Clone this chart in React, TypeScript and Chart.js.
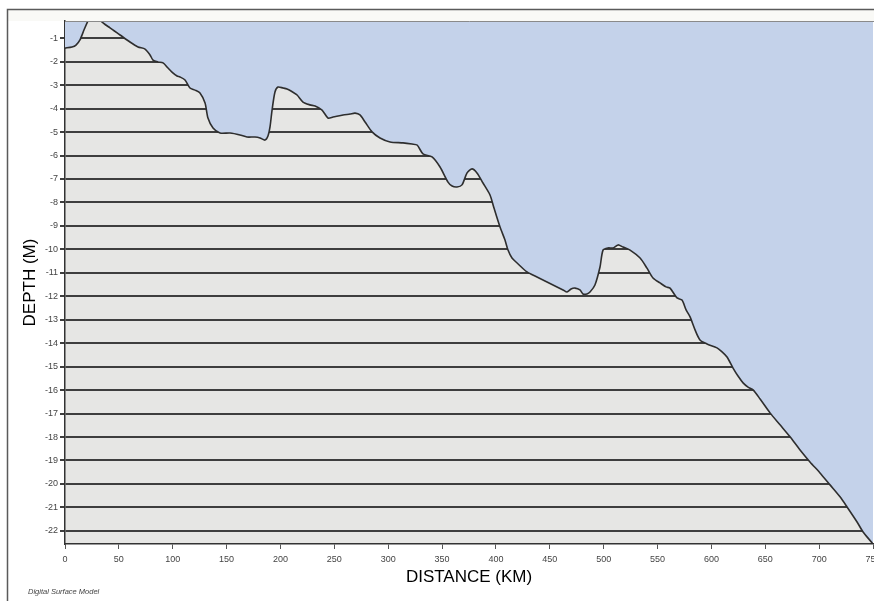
import React, { useEffect, useRef } from "react";
import { Chart, registerables } from "chart.js";

Chart.register(...registerables);

// Distance along profile (km)
const distanceKm = [0, 6.5, 10.2, 13.9, 17.6, 21.3, 25.1, 29.7, 33.4, 41.8, 51.1, 60.3, 67.8, 74.3, 78.9, 81.7, 86.3, 91.0, 95.6, 99.3, 104.0, 106.7, 111.4, 116.0, 120.7, 125.3, 130.0, 132.7, 137.4, 143.9, 153.2, 162.4, 168.9, 176.4, 181.0, 185.7, 188.4, 190.3, 192.2, 194.9, 197.7, 202.4, 206.1, 209.8, 215.4, 220.9, 227.4, 232.1, 238.6, 244.1, 248.8, 258.1, 264.6, 269.2, 273.8, 278.5, 285.0, 292.4, 301.7, 313.8, 322.1, 326.8, 332.3, 340.7, 348.1, 355.5, 359.3, 363.9, 368.5, 373.2, 377.8, 382.4, 388.0, 394.5, 398.2, 403.8, 408.4, 411.2, 414.9, 419.6, 428.8, 438.1, 447.4, 456.7, 462.3, 466.0, 469.7, 473.4, 478.0, 480.8, 484.5, 487.3, 491.9, 496.6, 499.4, 504.0, 508.7, 513.3, 518.0, 524.5, 533.8, 540.2, 545.8, 552.3, 557.9, 561.6, 568.1, 572.7, 576.5, 580.2, 584.8, 589.4, 595.9, 605.2, 609.9, 614.5, 620.1, 624.7, 629.4, 634.0, 638.7, 645.2, 654.4, 663.7, 673.0, 682.3, 691.5, 700.8, 710.1, 719.4, 725.9, 735.2, 740.8, 749.1, 752];

// Depth (m)
const depthM = [-1.42, -1.37, -1.29, -1.07, -0.65, -0.26, 0.1, 0.1, -0.26, -0.56, -0.86, -1.16, -1.37, -1.46, -1.71, -1.93, -2.01, -2.05, -2.27, -2.44, -2.61, -2.65, -2.78, -3.12, -3.21, -3.33, -3.76, -4.40, -4.83, -5.04, -5.04, -5.12, -5.21, -5.21, -5.25, -5.34, -5.17, -4.78, -4.06, -3.29, -3.08, -3.12, -3.16, -3.25, -3.42, -3.72, -3.84, -3.89, -4.06, -4.40, -4.36, -4.27, -4.23, -4.19, -4.27, -4.57, -4.99, -5.25, -5.42, -5.46, -5.51, -5.55, -5.93, -6.06, -6.49, -7.13, -7.30, -7.34, -7.25, -6.74, -6.57, -6.74, -7.17, -7.68, -8.24, -9.05, -9.60, -10.03, -10.37, -10.58, -10.96, -11.18, -11.39, -11.60, -11.73, -11.82, -11.69, -11.65, -11.73, -11.90, -11.90, -11.82, -11.52, -10.75, -10.03, -9.94, -9.94, -9.81, -9.90, -10.03, -10.37, -10.80, -11.22, -11.43, -11.60, -11.65, -12.07, -12.16, -12.58, -12.88, -13.43, -13.86, -14.03, -14.20, -14.37, -14.59, -15.06, -15.40, -15.69, -15.87, -15.99, -16.38, -16.97, -17.48, -17.99, -18.55, -19.06, -19.53, -20.04, -20.55, -20.98, -21.62, -22.05, -22.51, -22.7];

const xTickValues = [0, 50, 100, 150, 200, 250, 300, 350, 400, 450, 500, 550, 600, 650, 700, 750];
const yTickValues = [-1, -2, -3, -4, -5, -6, -7, -8, -9, -10, -11, -12, -13, -14, -15, -16, -17, -18, -19, -20, -21, -22];

const xTitle = "DISTANCE (KM)";
const yTitle = "DEPTH (M)";
const footnote = "Digital Surface Model";

const bgPlugin = {
  id: "bgPlugin",
  beforeDraw(chart: any) {
    const { ctx, chartArea } = chart;
    ctx.save();
    ctx.fillStyle = "#ffffff";
    ctx.fillRect(0, 0, chart.width, chart.height);
    ctx.fillStyle = "#f9f9f6";
    ctx.fillRect(8, 10, chart.width - 8, chartArea.top - 10);
    ctx.fillStyle = "#e6e6e4";
    ctx.fillRect(chartArea.left, chartArea.top, chartArea.right - chartArea.left, chartArea.bottom - chartArea.top);
    ctx.restore();
  },
  afterDraw(chart: any) {
    const { ctx, chartArea } = chart;
    ctx.save();
    ctx.strokeStyle = "#5a5a5a";
    ctx.lineWidth = 1.5;
    ctx.beginPath();
    ctx.moveTo(7.5, chart.height);
    ctx.lineTo(7.5, 9.5);
    ctx.lineTo(chart.width, 9.5);
    ctx.stroke();
    ctx.strokeStyle = "#8a8a8a";
    ctx.lineWidth = 1;
    ctx.beginPath();
    ctx.moveTo(chartArea.left, chartArea.top + 0.5);
    ctx.lineTo(chart.width, chartArea.top + 0.5);
    ctx.stroke();
    ctx.fillStyle = "#444";
    ctx.font = "italic 7.5px 'Liberation Sans', Arial, sans-serif";
    ctx.textAlign = "left";
    ctx.textBaseline = "middle";
    ctx.fillText(footnote, 28, 592);
    ctx.restore();
  },
};

export default function App() {
  const ref = useRef<HTMLCanvasElement | null>(null);
  useEffect(() => {
    if (!ref.current) return;
    const points = distanceKm.map((x, i) => ({ x, y: depthM[i] }));
    const chart = new Chart(ref.current, {
      type: "line",
      data: {
        datasets: [
          {
            data: points,
            borderColor: "#2e2e2e",
            borderWidth: 1.6,
            backgroundColor: "#c4d2ea",
            fill: "end",
            pointRadius: 0,
            tension: 0.25,
          },
        ],
      },
      options: {
        animation: false,
        responsive: false,
        layout: { padding: { top: 21, right: 1, left: 0, bottom: 0 } },
        plugins: { legend: { display: false }, tooltip: { enabled: false }, title: { display: false } },
        scales: {
          x: {
            type: "linear",
            min: 0,
            max: 750,
            afterBuildTicks: (s: any) => {
              s.ticks = xTickValues.map((v) => ({ value: v }));
            },
            afterFit: (s: any) => {
              s.height = 57;
              s.paddingLeft = 0;
              s.paddingRight = 0;
            },
            ticks: {
              autoSkip: false,
              maxRotation: 0,
              padding: 5,
              color: "#444",
              font: { size: 9, family: "'Liberation Sans', Arial, sans-serif" },
              callback: (v: any) => String(v),
            },
            grid: { drawOnChartArea: false, tickLength: 5, color: "#555", lineWidth: 1 },
            border: { color: "#333", width: 1.5 },
            title: {
              display: true,
              text: xTitle,
              color: "#000",
              font: { size: 17, family: "'Liberation Sans', Arial, sans-serif" },
              padding: { top: 0, bottom: 13 },
            },
          },
          y: {
            type: "linear",
            min: -22.56,
            max: -0.264,
            afterBuildTicks: (s: any) => {
              s.ticks = yTickValues.map((v) => ({ value: v }));
            },
            afterFit: (s: any) => {
              s.width = 65;
            },
            ticks: {
              autoSkip: false,
              padding: 2,
              color: "#444",
              font: { size: 9, family: "'Liberation Sans', Arial, sans-serif" },
              callback: (v: any) => String(v),
            },
            grid: { color: "#3e3e3e", lineWidth: 2, tickLength: 5, drawTicks: true },
            border: { color: "#333", width: 1.5 },
            title: {
              display: true,
              text: yTitle,
              color: "#000",
              font: { size: 17, family: "'Liberation Sans', Arial, sans-serif" },
              padding: { top: 20, bottom: 0 },
            },
          },
        },
      },
      plugins: [bgPlugin],
    });
    return () => chart.destroy();
  }, []);
  return (
    <div style={{ position: "fixed", left: 0, top: 0, width: 874, height: 601, overflow: "hidden", background: "#fff" }}>
      <canvas ref={ref} width={874} height={601} style={{ display: "block" }} />
    </div>
  );
}
